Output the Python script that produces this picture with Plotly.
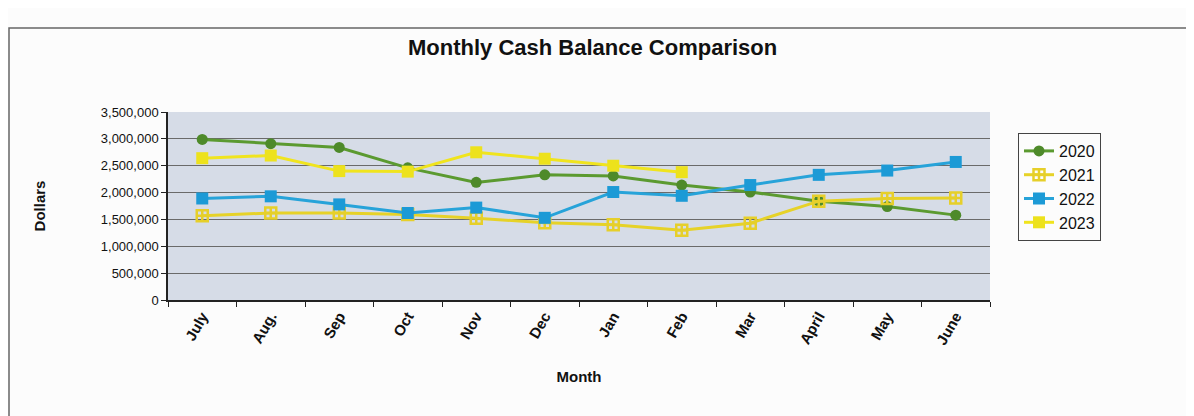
import plotly.graph_objects as go

months = ["July", "Aug.", "Sep", "Oct", "Nov", "Dec", "Jan", "Feb", "Mar", "April", "May", "June"]
y2020 = [2990000, 2910000, 2840000, 2460000, 2190000, 2330000, 2310000, 2140000, 2010000, 1840000, 1740000, 1580000]
y2021 = [1570000, 1620000, 1620000, 1590000, 1520000, 1440000, 1400000, 1300000, 1430000, 1840000, 1890000, 1900000]
y2022 = [1890000, 1930000, 1780000, 1620000, 1720000, 1530000, 2010000, 1940000, 2140000, 2330000, 2410000, 2570000]
y2023 = [2640000, 2690000, 2400000, 2390000, 2750000, 2630000, 2500000, 2380000, None, None, None, None]

fig = go.Figure()
fig.add_trace(go.Scatter(x=months, y=y2020, name="2020", mode="lines+markers",
                         line=dict(color="#5b9a30", width=3),
                         marker=dict(symbol="circle", size=11, color="#4e8a2a")))
fig.add_trace(go.Scatter(x=months, y=y2021, name="2021", mode="lines+markers",
                         line=dict(color="#e6d228", width=3),
                         marker=dict(symbol="square-cross-open", size=11, color="#e6cf2a",
                                     line=dict(width=2.5, color="#e6cf2a"))))
fig.add_trace(go.Scatter(x=months, y=y2022, name="2022", mode="lines+markers",
                         line=dict(color="#27a3d9", width=3),
                         marker=dict(symbol="square", size=12, color="#1c9ad6")))
fig.add_trace(go.Scatter(x=months, y=y2023, name="2023", mode="lines+markers",
                         line=dict(color="#f0e41e", width=3),
                         marker=dict(symbol="square", size=12, color="#ede21c")))

# page body adds an 8px offset; margins compensate so plot area sits at x 168-990, y 112-300
L, R, T, B = 160, 212, 104, 124
PW = 1194 - L - R
PH = 416 - T - B

def px(xp):
    return (xp - 8 - L) / PW

def py(yp):
    return (416 - B - (yp - 8)) / PH

fig.update_layout(
    width=1194, height=416,
    paper_bgcolor="#fcfcfc",
    plot_bgcolor="#d6dce7",
    margin=dict(l=L, r=R, t=T, b=B, autoexpand=False),
    font=dict(family="Arial, Liberation Sans, sans-serif", color="#111111", size=13),
    showlegend=True,
    legend=dict(x=px(1018), xanchor="left", y=py(133), yanchor="top",
                bordercolor="#444444", borderwidth=1, bgcolor="#fcfcfc",
                font=dict(size=16, color="#111111"),
                itemwidth=30),
    shapes=[dict(type="rect", xref="paper", yref="paper",
                 x0=px(9), x1=px(1250), y0=py(500), y1=py(28),
                 line=dict(color="#666666", width=1.5), fillcolor="rgba(0,0,0,0)")],
    annotations=[dict(text="<b>Monthly Cash Balance Comparison</b>", xref="paper", yref="paper",
                      x=px(592), y=py(48), xanchor="center", yanchor="middle", showarrow=False,
                      font=dict(size=22, color="#111111"))],
)
fig.update_xaxes(
    type="category", range=[-0.5, 11.5],
    showline=True, linecolor="#222222", linewidth=1.5, mirror=False,
    ticks="outside", tickson="boundaries", ticklen=5, tickcolor="#222222",
    tickangle=-60, tickfont=dict(size=15, family="Arial, Liberation Sans, sans-serif", color="#111111"),
    showgrid=False,
    title=dict(text="<b>Month</b>", font=dict(size=15), standoff=25),
    automargin=False,
)
fig.update_xaxes(ticktext=["<b>%s</b>" % m for m in months], tickvals=months)
fig.update_yaxes(
    range=[0, 3500000], dtick=500000, tickformat=",d",
    showline=True, linecolor="#222222", linewidth=1.5,
    ticks="outside", ticklen=5, tickcolor="#222222",
    showgrid=True, gridcolor="#6a6a6a", gridwidth=1,
    tickfont=dict(size=13),
    title=dict(text="<b>Dollars</b>", font=dict(size=15), standoff=52),
    zeroline=False, automargin=False,
)

fig.write_html("out.html")
